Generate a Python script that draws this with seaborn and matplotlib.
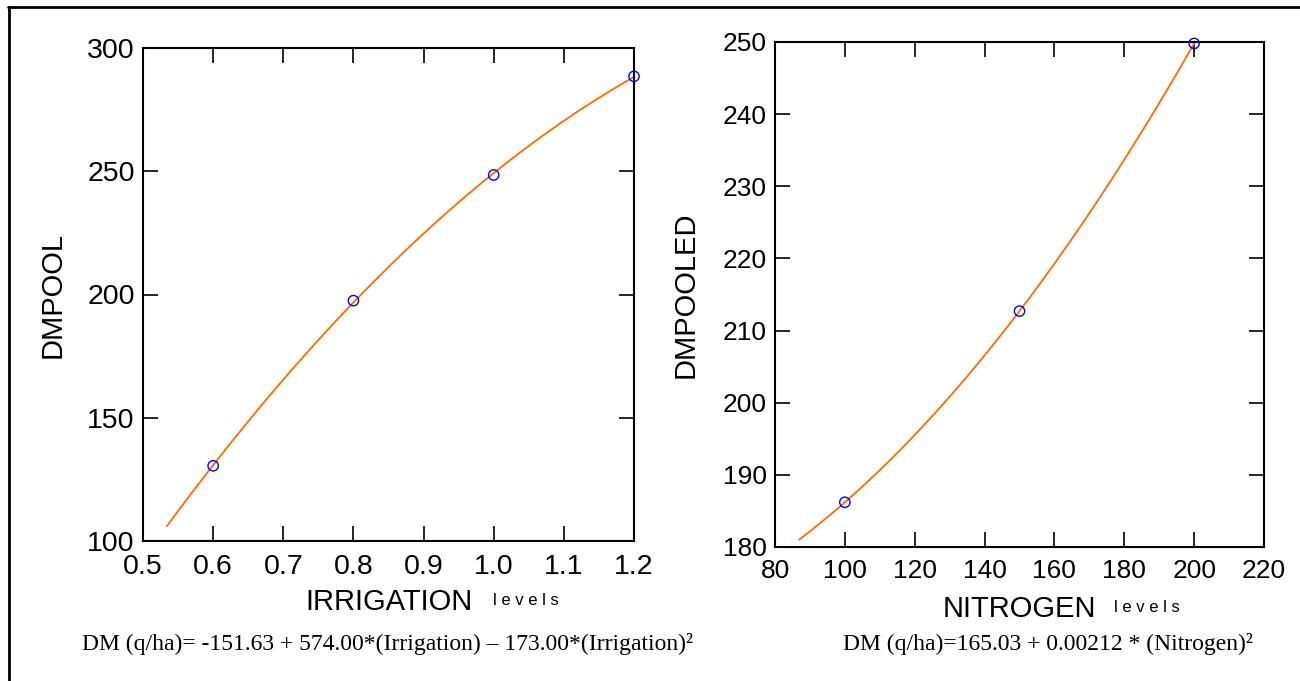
import numpy as np
import pandas as pd
import matplotlib
matplotlib.use("Agg")
import matplotlib.pyplot as plt
import seaborn as sns
from matplotlib.lines import Line2D

# ---- data ----
irrigation = [0.6, 0.8, 1.0, 1.2]
dm_irrigation = [130.5, 197.5, 248.5, 288.5]
nitrogen = [100, 150, 200]
dm_nitrogen = [186.2, 212.7, 249.8]
irr_fit_start = 0.534
nit_fit_start = 86.9

irr_xticks = [0.5, 0.6, 0.7, 0.8, 0.9, 1.0, 1.1, 1.2]
irr_yticks = [100, 150, 200, 250, 300]
nit_xticks = [80, 100, 120, 140, 160, 180, 200, 220]
nit_yticks = [180, 190, 200, 210, 220, 230, 240, 250]

eq_irr = "DM (q/ha)= -151.63 + 574.00*(Irrigation) \u2013 173.00*(Irrigation)\u00b2"
eq_nit = "DM (q/ha)=165.03 + 0.00212 * (Nitrogen)\u00b2"

sns.set_style("ticks")
plt.rcParams['font.family'] = ['Liberation Sans', 'DejaVu Sans']
plt.rcParams['text.color'] = 'black'
plt.rcParams['axes.labelcolor'] = 'black'
plt.rcParams['xtick.color'] = 'black'
plt.rcParams['ytick.color'] = 'black'

ORANGE = "#ff6a00"
BLUE = "#0000ff"

fig = plt.figure(figsize=(13, 6.81), dpi=100)
W, H = 1300, 681

def px_axes(x0, x1, ytop, ybot):
    return [x0 / W, 1 - ybot / H, (x1 - x0) / W, (ybot - ytop) / H]

ax1 = fig.add_axes(px_axes(143, 634, 48, 541))
ax2 = fig.add_axes(px_axes(775, 1264, 42, 547))

irr_df = pd.DataFrame({"irrigation": irrigation, "dm": dm_irrigation})
nit_df = pd.DataFrame({"nitrogen": nitrogen, "dm": dm_nitrogen})

# Left panel
ax1.set_xlim(irr_fit_start, 1.2)
sns.regplot(data=irr_df, x="irrigation", y="dm", order=2, ci=None, scatter=False,
            truncate=False, line_kws=dict(color=ORANGE, lw=1.3), ax=ax1)
sns.scatterplot(data=irr_df, x="irrigation", y="dm", marker="o", s=55,
                color=BLUE, facecolor="none", edgecolor=BLUE, linewidth=1.0,
                zorder=3, clip_on=False, ax=ax1)
ax1.set_xlim(0.5, 1.2)
ax1.set_ylim(100, 300)
ax1.set_xticks(irr_xticks)
ax1.set_xticklabels([f"{v:.1f}" for v in irr_xticks])
ax1.set_yticks(irr_yticks)

# Right panel
ax2.set_xlim(nit_fit_start, 200)
sns.regplot(data=nit_df, x="nitrogen", y="dm", order=2, ci=None, scatter=False,
            truncate=False, line_kws=dict(color=ORANGE, lw=1.3), ax=ax2)
sns.scatterplot(data=nit_df, x="nitrogen", y="dm", marker="o", s=55,
                color=BLUE, facecolor="none", edgecolor=BLUE, linewidth=1.0,
                zorder=3, clip_on=False, ax=ax2)
ax2.set_xlim(80, 220)
ax2.set_ylim(180, 250)
ax2.set_xticks(nit_xticks)
ax2.set_yticks(nit_yticks)

for ax, xl, yl, ls in [(ax1, "IRRIGATION", "DMPOOL", 20.5), (ax2, "NITROGEN", "DMPOOLED", 19)]:
    for s in ax.spines.values():
        s.set_visible(True)
        s.set_color("black")
        s.set_linewidth(1.5)
    ax.tick_params(direction="in", top=True, right=True, length=11, width=1.2,
                   labelsize=ls, colors="black")
    ax.tick_params(axis="x", pad=9)
    ax.tick_params(axis="y", pad=6)
    ax.set_xlabel(xl, fontsize=21, color="black")
    ax.set_ylabel(yl, fontsize=21, color="black")
    ax.yaxis.set_label_coords(-0.155, 0.5)
    ax.xaxis.set_label_coords(0.5, -0.095)
    ax.grid(False)

fig.text(493 / W, 1 - 605 / H, "l e v e l s", fontsize=12, va="baseline", ha="left")
fig.text(1114 / W, 1 - 612 / H, "l e v e l s", fontsize=12, va="baseline", ha="left")

fig.text(388 / W, 1 - 650 / H, eq_irr, fontsize=17, ha="center", va="baseline",
         family=["Liberation Serif", "DejaVu Serif"])
fig.text(1048 / W, 1 - 650 / H, eq_nit, fontsize=17, ha="center", va="baseline",
         family=["Liberation Serif", "DejaVu Serif"])

# outer frame (top and left edges visible)
fig.add_artist(Line2D([8 / W, 1], [1 - 7 / H, 1 - 7 / H], transform=fig.transFigure,
                      color="black", lw=2))
fig.add_artist(Line2D([9 / W, 9 / W], [0, 1 - 7 / H], transform=fig.transFigure,
                      color="black", lw=2))

fig.savefig("out.png", dpi=100)
